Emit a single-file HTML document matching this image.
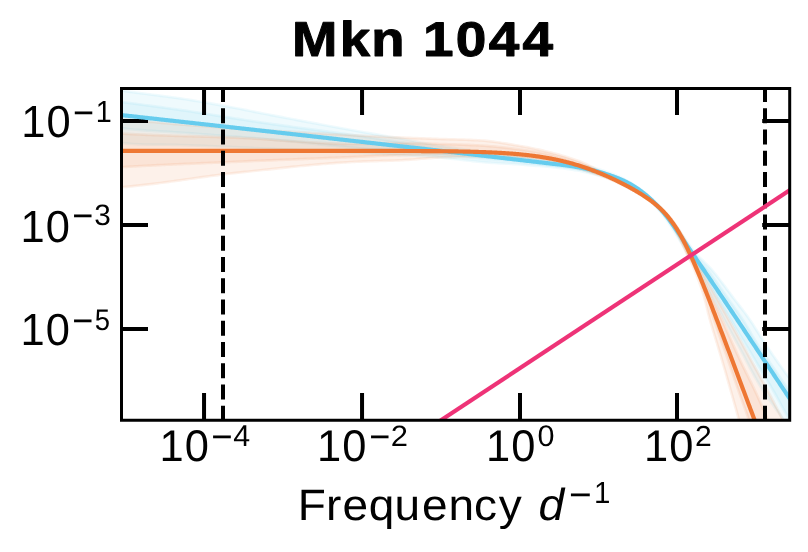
<!DOCTYPE html>
<html lang="en"><head><meta charset="utf-8"><title>Mkn 1044</title>
<style>html,body{margin:0;padding:0;background:#fff;}body{width:808px;height:552px;overflow:hidden;font-family:"Liberation Sans",sans-serif;}svg{display:block;will-change:transform;}</style></head><body>
<svg width="808" height="552" viewBox="0 0 808 552" font-family="'Liberation Sans', sans-serif">
<rect width="808" height="552" fill="#fff"/>
<defs><clipPath id="ax"><rect x="121.5" y="88.5" width="668.2" height="331.75"/></clipPath></defs>
<g clip-path="url(#ax)">
<path d="M100 87.38 L102.76 87.69 L105.52 88 L108.28 88.31 L111.05 88.69 L113.81 89.19 L116.57 89.68 L119.33 90.16 L122.09 90.61 L124.86 91.03 L127.62 91.43 L130.38 91.82 L133.14 92.2 L135.9 92.57 L138.66 92.94 L141.43 93.31 L144.19 93.67 L146.95 94.02 L149.71 94.38 L152.47 94.73 L155.24 95.09 L158 95.44 L160.76 95.8 L163.52 96.15 L166.28 96.52 L169.05 96.88 L171.81 97.25 L174.57 97.63 L177.33 98.02 L180.09 98.41 L182.86 98.82 L185.62 99.24 L188.38 99.66 L191.14 100.1 L193.9 100.55 L196.66 101.01 L199.43 101.47 L202.19 101.95 L204.95 102.43 L207.71 102.91 L210.47 103.41 L213.24 103.9 L216 104.41 L218.76 104.91 L221.52 105.42 L224.28 105.94 L227.05 106.45 L229.81 106.97 L232.57 107.48 L235.33 108 L238.09 108.52 L240.85 109.04 L243.62 109.59 L246.38 110.15 L249.14 110.71 L251.9 111.27 L254.66 111.84 L257.43 112.39 L260.19 112.94 L262.95 113.47 L265.71 114.01 L268.47 114.54 L271.23 115.07 L274 115.6 L276.76 116.13 L279.52 116.66 L282.28 117.19 L285.04 117.72 L287.81 118.24 L290.57 118.77 L293.33 119.29 L296.09 119.81 L298.85 120.33 L301.61 120.85 L304.38 121.37 L307.14 121.89 L309.9 122.4 L312.66 122.92 L315.42 123.43 L318.18 123.95 L320.95 124.46 L323.71 124.97 L326.47 125.48 L329.23 125.99 L331.99 126.49 L334.75 127 L337.51 127.5 L340.28 128 L343.04 128.51 L345.8 129.01 L348.56 129.5 L351.32 130 L354.08 130.5 L356.85 130.99 L359.61 131.49 L362.37 131.97 L365.13 132.46 L367.89 132.94 L370.65 133.41 L373.41 133.89 L376.17 134.36 L378.94 134.83 L381.7 135.3 L384.46 135.78 L387.22 136.25 L389.98 136.73 L392.74 137.21 L395.5 137.7 L398.27 138.19 L401.03 138.69 L403.79 139.2 L406.55 139.73 L409.31 140.27 L412.07 140.82 L414.83 141.37 L417.59 141.93 L420.35 142.48 L423.12 143.02 L425.88 143.56 L428.64 144.08 L431.4 144.58 L434.16 145.06 L436.92 145.52 L439.68 145.95 L442.44 146.36 L445.2 146.77 L447.96 147.17 L450.73 147.56 L453.49 147.95 L456.25 148.34 L459.01 148.72 L461.77 149.1 L464.53 149.47 L467.29 149.84 L470.05 150.21 L472.81 150.57 L475.57 150.93 L478.33 151.29 L481.09 151.64 L483.85 151.99 L486.62 152.34 L489.38 152.68 L492.14 153.02 L494.9 153.37 L497.66 153.71 L500.42 154.05 L503.18 154.39 L505.94 154.73 L508.7 155.07 L511.46 155.41 L514.22 155.76 L516.98 156.11 L519.74 156.47 L522.5 156.83 L525.26 157.21 L528.02 157.59 L530.78 157.99 L533.54 158.38 L536.3 158.79 L539.06 159.19 L541.82 159.59 L544.58 159.98 L547.34 160.37 L550.1 160.74 L552.86 161.11 L555.62 161.46 L558.38 161.8 L561.14 162.14 L563.89 162.48 L566.65 162.84 L569.39 163.22 L572.14 163.62 L574.88 164.04 L577.61 164.5 L580.34 164.98 L583.07 165.5 L585.78 166.05 L588.5 166.64 L591.2 167.26 L593.9 167.91 L596.59 168.59 L599.27 169.3 L601.95 170.17 L604.63 171.08 L607.3 172.02 L609.95 173 L612.6 174.02 L615.23 175.08 L617.84 176.19 L620.43 177.35 L622.99 178.57 L625.53 179.85 L628.03 181.19 L630.49 182.6 L632.92 184.09 L635.31 185.63 L637.66 187.24 L639.98 188.91 L642.26 190.63 L644.51 192.41 L646.72 194.23 L648.89 196.11 L651.03 198.03 L653.13 199.99 L655.2 201.99 L657.23 204.02 L659.23 206.1 L661.18 208.21 L663.11 210.35 L664.99 212.52 L666.84 214.71 L668.66 216.94 L670.44 219.18 L672.19 221.45 L673.91 223.73 L675.61 226.03 L677.29 228.33 L678.97 230.65 L680.64 232.97 L682.31 235.28 L683.98 237.6 L685.66 239.91 L687.34 242.22 L689.03 244.52 L690.73 246.83 L692.42 249.13 L694.13 251.42 L695.83 253.72 L697.9 256.01 L700.32 258.3 L702.77 260.6 L705.2 262.89 L707.54 265.18 L709.77 267.48 L711.81 269.77 L713.71 272.07 L715.57 274.37 L717.39 276.66 L719.19 278.96 L720.96 281.26 L722.71 283.56 L724.44 285.87 L726.16 288.17 L727.88 290.47 L729.59 292.78 L731.31 295.08 L733.03 297.39 L734.77 299.69 L736.53 302 L738.31 304.31 L740.1 306.62 L741.89 308.92 L743.67 311.23 L745.41 313.54 L747.11 315.86 L748.75 318.17 L750.32 320.48 L751.84 322.79 L753.33 325.1 L754.81 327.42 L756.27 329.73 L757.72 332.04 L759.17 334.36 L760.63 336.67 L762.1 338.98 L763.58 341.3 L765.08 343.61 L766.62 345.93 L768.17 348.24 L769.73 350.56 L771.31 352.87 L772.9 355.19 L774.51 357.5 L776.13 359.82 L777.76 362.14 L779.41 364.45 L781.07 366.77 L782.74 369.08 L784.42 371.4 L786.12 373.71 L787.83 376.03 L789.56 378.34 L791.3 380.65 L793.05 382.97 L794.81 385.28 L796.59 387.6 L798.37 389.91 L800.15 392.22 L801.69 394.53 L803.23 396.84 L804.77 399.16 L806.32 401.47 L807.86 403.78 L809.4 406.09 L810.95 408.4 L812.5 410.71 L814.04 413.01 L815.59 415.32 L817.14 417.63 L818.69 419.93 L783.85 419.93 L782.1 417.63 L780.37 415.32 L778.67 413.01 L776.98 410.71 L775.31 408.4 L773.67 406.09 L772.04 403.78 L770.43 401.47 L768.84 399.16 L767.26 396.84 L765.7 394.53 L764.15 392.22 L762.63 389.91 L761.15 387.6 L759.72 385.28 L758.33 382.97 L756.97 380.65 L755.64 378.34 L754.35 376.03 L753.08 373.71 L751.83 371.4 L750.6 369.08 L749.38 366.77 L748.18 364.45 L746.98 362.14 L745.78 359.82 L744.59 357.5 L743.39 355.19 L742.19 352.87 L740.98 350.56 L739.75 348.24 L738.5 345.93 L737.24 343.61 L735.98 341.3 L734.72 338.98 L733.47 336.67 L732.21 334.36 L730.96 332.04 L729.71 329.73 L728.47 327.42 L727.23 325.1 L725.99 322.79 L724.75 320.48 L723.53 318.17 L722.31 315.86 L721.09 313.54 L719.88 311.23 L718.68 308.92 L717.47 306.62 L716.26 304.31 L715.05 302 L713.84 299.69 L712.61 297.39 L711.38 295.08 L710.15 292.78 L708.91 290.47 L707.67 288.17 L706.43 285.87 L705.19 283.56 L703.95 281.26 L702.72 278.96 L701.49 276.66 L700.28 274.37 L699.07 272.07 L697.88 269.77 L696.84 267.48 L695.73 265.18 L694.24 262.89 L692.65 260.6 L690.99 258.3 L689.22 256.01 L687.73 253.72 L686.38 251.43 L685.01 249.15 L683.65 246.87 L682.28 244.6 L680.91 242.32 L679.54 240.05 L678.16 237.79 L676.78 235.52 L675.4 233.26 L674.01 231 L672.6 228.76 L671.18 226.53 L669.74 224.31 L668.27 222.11 L666.76 219.94 L665.22 217.79 L663.63 215.67 L661.99 213.58 L660.32 211.52 L658.6 209.51 L656.83 207.52 L655.03 205.58 L653.18 203.68 L651.28 201.83 L649.34 200.01 L647.36 198.25 L645.34 196.54 L643.27 194.88 L641.16 193.28 L639 191.74 L636.8 190.25 L634.56 188.84 L632.27 187.49 L629.94 186.21 L627.56 185 L625.14 183.87 L622.68 182.81 L620.19 181.82 L617.65 180.89 L615.09 180.02 L612.5 179.21 L609.89 178.44 L607.26 177.72 L604.61 177.04 L601.95 176.4 L599.27 175.77 L596.59 174.97 L593.9 174.21 L591.2 173.5 L588.5 172.82 L585.78 172.19 L583.07 171.6 L580.34 171.05 L577.61 170.54 L574.88 170.07 L572.14 169.63 L569.39 169.22 L566.65 168.84 L563.89 168.48 L561.14 168.14 L558.38 167.81 L555.62 167.51 L552.86 167.22 L550.1 166.96 L547.34 166.71 L544.58 166.47 L541.82 166.23 L539.06 166 L536.3 165.78 L533.54 165.56 L530.78 165.35 L528.02 165.13 L525.26 164.92 L522.5 164.7 L519.74 164.48 L516.98 164.27 L514.22 164.08 L511.46 163.9 L508.7 163.74 L505.94 163.58 L503.18 163.43 L500.42 163.28 L497.66 163.13 L494.9 162.97 L492.14 162.79 L489.38 162.6 L486.62 162.4 L483.85 162.17 L481.09 161.91 L478.33 161.63 L475.57 161.34 L472.81 161.04 L470.05 160.75 L467.29 160.45 L464.53 160.14 L461.77 159.84 L459.01 159.53 L456.25 159.23 L453.49 158.93 L450.73 158.63 L447.96 158.33 L445.2 158.04 L442.44 157.75 L439.68 157.47 L436.92 157.2 L434.16 156.97 L431.4 156.75 L428.64 156.55 L425.88 156.37 L423.12 156.21 L420.35 156.05 L417.59 155.91 L414.83 155.77 L412.07 155.63 L409.31 155.49 L406.55 155.35 L403.79 155.21 L401.03 155.06 L398.27 154.9 L395.5 154.74 L392.74 154.59 L389.98 154.44 L387.22 154.29 L384.46 154.14 L381.7 154 L378.94 153.85 L376.17 153.71 L373.41 153.57 L370.65 153.43 L367.89 153.29 L365.13 153.16 L362.37 153.02 L359.61 152.88 L356.85 152.74 L354.08 152.61 L351.32 152.47 L348.56 152.34 L345.8 152.2 L343.04 152.07 L340.28 151.94 L337.51 151.81 L334.75 151.68 L331.99 151.55 L329.23 151.42 L326.47 151.29 L323.71 151.17 L320.95 151.04 L318.18 150.91 L315.42 150.79 L312.66 150.66 L309.9 150.54 L307.14 150.41 L304.38 150.29 L301.61 150.17 L298.85 150.04 L296.09 149.92 L293.33 149.8 L290.57 149.67 L287.81 149.55 L285.04 149.43 L282.28 149.3 L279.52 149.18 L276.76 149.06 L274 148.93 L271.23 148.81 L268.47 148.68 L265.71 148.56 L262.95 148.43 L260.19 148.31 L257.43 148.18 L254.66 148.06 L251.9 147.93 L249.14 147.8 L246.38 147.67 L243.62 147.55 L240.85 147.42 L238.09 147.3 L235.33 147.19 L232.57 147.07 L229.81 146.95 L227.05 146.83 L224.28 146.72 L221.52 146.61 L218.76 146.49 L216 146.38 L213.24 146.27 L210.47 146.16 L207.71 146.05 L204.95 145.94 L202.19 145.83 L199.43 145.72 L196.66 145.62 L193.9 145.51 L191.14 145.41 L188.38 145.31 L185.62 145.2 L182.86 145.1 L180.09 145 L177.33 144.91 L174.57 144.85 L171.81 144.79 L169.05 144.76 L166.28 144.73 L163.52 144.71 L160.76 144.69 L158 144.68 L155.24 144.66 L152.47 144.63 L149.71 144.6 L146.95 144.55 L144.19 144.49 L141.43 144.4 L138.66 144.29 L135.9 144.16 L133.14 144 L130.38 143.8 L127.62 143.57 L124.86 143.29 L122.09 142.99 L119.33 142.67 L116.57 142.35 L113.81 142.01 L111.05 141.64 L108.28 141.31 L105.52 141 L102.76 140.69 L100 140.38 Z" fill="#66CCEE" fill-opacity="0.1" stroke="#66CCEE" stroke-opacity="0.1" stroke-width="2.7" stroke-linejoin="round"/>
<path d="M100 99.38 L102.76 99.69 L105.52 100 L108.28 100.31 L111.05 100.63 L113.81 100.98 L116.57 101.34 L119.33 101.69 L122.09 102.05 L124.86 102.41 L127.62 102.77 L130.38 103.14 L133.14 103.5 L135.9 103.87 L138.66 104.23 L141.43 104.6 L144.19 104.97 L146.95 105.34 L149.71 105.71 L152.47 106.08 L155.24 106.46 L158 106.83 L160.76 107.21 L163.52 107.59 L166.28 107.97 L169.05 108.36 L171.81 108.74 L174.57 109.13 L177.33 109.52 L180.09 109.91 L182.86 110.31 L185.62 110.71 L188.38 111.12 L191.14 111.54 L193.9 111.96 L196.66 112.38 L199.43 112.81 L202.19 113.24 L204.95 113.67 L207.71 114.11 L210.47 114.54 L213.24 114.98 L216 115.42 L218.76 115.86 L221.52 116.3 L224.28 116.74 L227.05 117.18 L229.81 117.62 L232.57 118.05 L235.33 118.49 L238.09 118.91 L240.85 119.34 L243.62 119.78 L246.38 120.21 L249.14 120.65 L251.9 121.08 L254.66 121.5 L257.43 121.92 L260.19 122.33 L262.95 122.73 L265.71 123.12 L268.47 123.52 L271.23 123.91 L274 124.3 L276.76 124.69 L279.52 125.07 L282.28 125.45 L285.04 125.83 L287.81 126.21 L290.57 126.59 L293.33 126.97 L296.09 127.34 L298.85 127.72 L301.61 128.09 L304.38 128.46 L307.14 128.83 L309.9 129.2 L312.66 129.58 L315.42 129.95 L318.18 130.32 L320.95 130.69 L323.71 131.06 L326.47 131.44 L329.23 131.81 L331.99 132.19 L334.75 132.56 L337.51 132.94 L340.28 133.32 L343.04 133.7 L345.8 134.08 L348.56 134.47 L351.32 134.85 L354.08 135.24 L356.85 135.64 L359.61 136.03 L362.37 136.42 L365.13 136.82 L367.89 137.21 L370.65 137.61 L373.41 138.01 L376.17 138.41 L378.94 138.81 L381.7 139.22 L384.46 139.63 L387.22 140.04 L389.98 140.45 L392.74 140.87 L395.5 141.3 L398.27 141.73 L401.03 142.16 L403.79 142.63 L406.55 143.12 L409.31 143.64 L412.07 144.17 L414.83 144.7 L417.59 145.25 L420.35 145.79 L423.12 146.32 L425.88 146.83 L428.64 147.32 L431.4 147.79 L434.16 148.22 L436.92 148.62 L439.68 148.96 L442.44 149.28 L445.2 149.59 L447.96 149.91 L450.73 150.22 L453.49 150.53 L456.25 150.84 L459.01 151.15 L461.77 151.46 L464.53 151.77 L467.29 152.07 L470.05 152.38 L472.81 152.69 L475.57 153 L478.33 153.31 L481.09 153.62 L483.85 153.93 L486.62 154.24 L489.38 154.55 L492.14 154.85 L494.9 155.16 L497.66 155.47 L500.42 155.77 L503.18 156.08 L505.94 156.39 L508.7 156.7 L511.46 157.02 L514.22 157.33 L516.98 157.65 L519.74 157.97 L522.5 158.3 L525.26 158.64 L528.02 159 L530.78 159.37 L533.54 159.75 L536.3 160.13 L539.06 160.51 L541.82 160.9 L544.58 161.28 L547.34 161.66 L550.1 162.03 L552.86 162.39 L555.62 162.75 L558.38 163.1 L561.14 163.44 L563.89 163.8 L566.65 164.16 L569.39 164.55 L572.14 164.96 L574.88 165.4 L577.61 165.86 L580.34 166.36 L583.07 166.89 L585.78 167.46 L588.5 168.06 L591.2 168.7 L593.9 169.36 L596.59 170.06 L599.27 170.79 L601.95 171.61 L604.63 172.46 L607.29 173.34 L609.94 174.26 L612.58 175.22 L615.2 176.22 L617.8 177.27 L620.38 178.38 L622.93 179.55 L625.44 180.77 L627.92 182.07 L630.37 183.44 L632.78 184.87 L635.15 186.37 L637.48 187.94 L639.77 189.56 L642.02 191.24 L644.24 192.98 L646.42 194.77 L648.56 196.6 L650.66 198.48 L652.73 200.41 L654.76 202.38 L656.75 204.38 L658.7 206.43 L660.62 208.51 L662.5 210.62 L664.34 212.76 L666.14 214.93 L667.91 217.13 L669.64 219.36 L671.33 221.6 L673 223.86 L674.64 226.14 L676.27 228.43 L677.88 230.73 L679.49 233.03 L681.1 235.34 L682.71 237.64 L684.32 239.94 L685.94 242.24 L687.56 244.54 L689.18 246.84 L690.81 249.13 L692.43 251.43 L694.06 253.72 L695.73 256.01 L697.57 258.3 L699.63 260.6 L701.78 262.89 L703.93 265.18 L705.99 267.48 L707.83 269.77 L709.5 272.07 L711.16 274.37 L712.79 276.66 L714.41 278.96 L716.03 281.26 L717.63 283.56 L719.22 285.87 L720.81 288.17 L722.4 290.47 L723.99 292.78 L725.58 295.08 L727.18 297.39 L728.79 299.69 L730.4 302 L732.04 304.31 L733.68 306.62 L735.32 308.92 L736.95 311.23 L738.58 313.54 L740.18 315.86 L741.77 318.17 L743.32 320.48 L744.8 322.79 L746.23 325.1 L747.6 327.42 L748.93 329.73 L750.25 332.04 L751.56 334.36 L752.89 336.67 L754.24 338.98 L755.64 341.3 L757.09 343.61 L758.62 345.93 L760.16 348.24 L761.72 350.56 L763.29 352.87 L764.86 355.19 L766.44 357.5 L768.02 359.82 L769.61 362.14 L771.2 364.45 L772.79 366.77 L774.39 369.08 L775.98 371.4 L777.57 373.71 L779.17 376.03 L780.75 378.34 L782.34 380.65 L783.91 382.97 L785.48 385.28 L787.05 387.6 L788.6 389.91 L790.15 392.22 L791.69 394.53 L793.23 396.84 L794.77 399.16 L796.31 401.47 L797.85 403.78 L799.39 406.09 L800.93 408.4 L802.48 410.71 L804.03 413.01 L805.58 415.32 L807.13 417.63 L808.67 419.93 L790 419.93 L788.49 417.63 L787.05 415.32 L785.67 413.01 L784.33 410.71 L783.03 408.4 L781.76 406.09 L780.51 403.78 L779.26 401.47 L778.01 399.16 L776.75 396.84 L775.46 394.53 L774.13 392.22 L772.77 389.91 L771.41 387.6 L770.05 385.28 L768.68 382.97 L767.31 380.65 L765.94 378.34 L764.56 376.03 L763.18 373.71 L761.8 371.4 L760.42 369.08 L759.03 366.77 L757.65 364.45 L756.26 362.14 L754.87 359.82 L753.49 357.5 L752.1 355.19 L750.71 352.87 L749.32 350.56 L747.94 348.24 L746.55 345.93 L745.17 343.61 L743.79 341.3 L742.4 338.98 L741.01 336.67 L739.62 334.36 L738.23 332.04 L736.84 329.73 L735.45 327.42 L734.06 325.1 L732.67 322.79 L731.29 320.48 L729.9 318.17 L728.51 315.86 L727.13 313.54 L725.74 311.23 L724.35 308.92 L722.97 306.62 L721.58 304.31 L720.2 302 L718.82 299.69 L717.45 297.39 L716.09 295.08 L714.75 292.78 L713.41 290.47 L712.07 288.17 L710.73 285.87 L709.38 283.56 L708.02 281.26 L706.64 278.96 L705.24 276.66 L703.81 274.37 L702.35 272.07 L700.85 269.77 L699.33 267.48 L697.8 265.18 L696.24 262.89 L694.66 260.6 L693.05 258.3 L691.41 256.01 L689.91 253.72 L688.46 251.43 L687 249.15 L685.55 246.86 L684.09 244.58 L682.64 242.3 L681.18 240.02 L679.72 237.74 L678.26 235.47 L676.8 233.19 L675.34 230.92 L673.86 228.66 L672.37 226.41 L670.86 224.18 L669.32 221.96 L667.75 219.76 L666.14 217.59 L664.49 215.45 L662.8 213.33 L661.07 211.25 L659.29 209.21 L657.48 207.19 L655.62 205.22 L653.72 203.29 L651.78 201.4 L649.8 199.56 L647.78 197.76 L645.71 196.01 L643.6 194.31 L641.46 192.67 L639.27 191.08 L637.03 189.56 L634.76 188.1 L632.44 186.7 L630.09 185.38 L627.69 184.12 L625.25 182.94 L622.77 181.83 L620.25 180.79 L617.7 179.81 L615.13 178.88 L612.53 178.01 L609.91 177.19 L607.27 176.41 L604.62 175.66 L601.95 174.96 L599.27 174.27 L596.59 173.48 L593.9 172.71 L591.2 171.99 L588.5 171.3 L585.78 170.65 L583.07 170.04 L580.34 169.46 L577.61 168.93 L574.88 168.44 L572.14 167.98 L569.39 167.56 L566.65 167.16 L563.89 166.79 L561.14 166.44 L558.38 166.11 L555.62 165.79 L552.86 165.48 L550.1 165.18 L547.34 164.88 L544.58 164.58 L541.82 164.29 L539.06 163.99 L536.3 163.7 L533.54 163.41 L530.78 163.12 L528.02 162.83 L525.26 162.55 L522.5 162.26 L519.74 161.97 L516.98 161.69 L514.22 161.43 L511.46 161.17 L508.7 160.92 L505.94 160.67 L503.18 160.44 L500.42 160.2 L497.66 159.97 L494.9 159.75 L492.14 159.52 L489.38 159.29 L486.62 159.06 L483.85 158.83 L481.09 158.6 L478.33 158.35 L475.57 158.11 L472.81 157.87 L470.05 157.63 L467.29 157.39 L464.53 157.15 L461.77 156.9 L459.01 156.66 L456.25 156.42 L453.49 156.18 L450.73 155.94 L447.96 155.7 L445.2 155.46 L442.44 155.21 L439.68 154.97 L436.92 154.73 L434.16 154.49 L431.4 154.24 L428.64 154 L425.88 153.75 L423.12 153.51 L420.35 153.26 L417.59 153.02 L414.83 152.77 L412.07 152.53 L409.31 152.29 L406.55 152.06 L403.79 151.82 L401.03 151.59 L398.27 151.36 L395.5 151.13 L392.74 150.92 L389.98 150.71 L387.22 150.5 L384.46 150.3 L381.7 150.1 L378.94 149.89 L376.17 149.69 L373.41 149.48 L370.65 149.27 L367.89 149.05 L365.13 148.82 L362.37 148.59 L359.61 148.35 L356.85 148.09 L354.08 147.83 L351.32 147.57 L348.56 147.31 L345.8 147.04 L343.04 146.77 L340.28 146.5 L337.51 146.22 L334.75 145.95 L331.99 145.67 L329.23 145.39 L326.47 145.11 L323.71 144.83 L320.95 144.54 L318.18 144.26 L315.42 143.98 L312.66 143.69 L309.9 143.41 L307.14 143.12 L304.38 142.84 L301.61 142.56 L298.85 142.27 L296.09 141.99 L293.33 141.71 L290.57 141.43 L287.81 141.16 L285.04 140.88 L282.28 140.61 L279.52 140.34 L276.76 140.07 L274 139.8 L271.23 139.54 L268.47 139.28 L265.71 139.02 L262.95 138.77 L260.19 138.52 L257.43 138.28 L254.66 138.06 L251.9 137.86 L249.14 137.66 L246.38 137.48 L243.62 137.29 L240.85 137.1 L238.09 136.91 L235.33 136.7 L232.57 136.5 L229.81 136.3 L227.05 136.09 L224.28 135.89 L221.52 135.68 L218.76 135.47 L216 135.27 L213.24 135.06 L210.47 134.86 L207.71 134.65 L204.95 134.44 L202.19 134.24 L199.43 134.03 L196.66 133.83 L193.9 133.62 L191.14 133.42 L188.38 133.21 L185.62 133.01 L182.86 132.81 L180.09 132.61 L177.33 132.41 L174.57 132.23 L171.81 132.05 L169.05 131.88 L166.28 131.71 L163.52 131.55 L160.76 131.39 L158 131.23 L155.24 131.07 L152.47 130.9 L149.71 130.73 L146.95 130.55 L144.19 130.37 L141.43 130.17 L138.66 129.96 L135.9 129.74 L133.14 129.51 L130.38 129.26 L127.62 128.98 L124.86 128.69 L122.09 128.37 L119.33 128 L116.57 127.58 L113.81 127.13 L111.05 126.67 L108.28 126.31 L105.52 126 L102.76 125.69 L100 125.38 Z" fill="#66CCEE" fill-opacity="0.1" stroke="#66CCEE" stroke-opacity="0.1" stroke-width="2.7" stroke-linejoin="round"/>
<path d="M101.75 118.3 L103.98 118.3 L106.22 118.3 L108.46 118.3 L110.69 118.36 L112.93 118.55 L115.17 118.74 L117.4 118.93 L119.64 119.13 L121.87 119.32 L124.11 119.51 L126.35 119.7 L128.58 119.89 L130.82 120.09 L133.06 120.28 L135.29 120.47 L137.53 120.67 L139.76 120.86 L142 121.05 L144.24 121.25 L146.47 121.44 L148.71 121.64 L150.95 121.83 L153.18 122.03 L155.42 122.23 L157.66 122.44 L159.89 122.64 L162.13 122.84 L164.36 123.05 L166.6 123.25 L168.84 123.45 L171.07 123.65 L173.31 123.84 L175.55 124.03 L177.78 124.22 L180.02 124.4 L182.25 124.58 L184.49 124.75 L186.73 124.93 L188.96 125.1 L191.2 125.26 L193.44 125.43 L195.67 125.6 L197.91 125.76 L200.14 125.92 L202.38 126.08 L204.62 126.24 L206.85 126.4 L209.09 126.56 L211.33 126.71 L213.56 126.87 L215.8 127.02 L218.03 127.17 L220.27 127.32 L222.51 127.47 L224.74 127.62 L226.98 127.77 L229.22 127.92 L231.45 128.07 L233.69 128.22 L235.93 128.36 L238.16 128.51 L240.4 128.66 L242.63 128.8 L244.87 128.95 L247.11 129.09 L249.34 129.23 L251.58 129.38 L253.82 129.52 L256.05 129.66 L258.29 129.8 L260.52 129.94 L262.76 130.08 L265 130.21 L267.23 130.35 L269.47 130.49 L271.71 130.62 L273.94 130.76 L276.18 130.9 L278.41 131.03 L280.65 131.16 L282.89 131.3 L285.12 131.43 L287.36 131.56 L289.6 131.69 L291.83 131.82 L294.07 131.96 L296.3 132.09 L298.54 132.22 L300.78 132.35 L303.01 132.47 L305.25 132.6 L307.49 132.73 L309.72 132.86 L311.96 132.99 L314.2 133.12 L316.43 133.25 L318.67 133.37 L320.9 133.5 L323.14 133.63 L325.38 133.75 L327.61 133.88 L329.85 134 L332.09 134.12 L334.32 134.25 L336.56 134.37 L338.79 134.49 L341.03 134.61 L343.27 134.73 L345.5 134.85 L347.74 134.97 L349.98 135.09 L352.21 135.2 L354.45 135.32 L356.68 135.43 L358.92 135.55 L361.16 135.66 L363.39 135.77 L365.63 135.89 L367.87 136 L370.1 136.11 L372.34 136.22 L374.57 136.34 L376.81 136.45 L379.05 136.56 L381.28 136.66 L383.52 136.77 L385.76 136.88 L387.99 136.98 L390.23 137.08 L392.47 137.18 L394.7 137.28 L396.94 137.37 L399.17 137.47 L401.41 137.56 L403.65 137.65 L405.88 137.74 L408.12 137.83 L410.36 137.92 L412.59 138.01 L414.83 138.1 L417.06 138.18 L419.3 138.27 L421.54 138.36 L423.77 138.44 L426.01 138.52 L428.25 138.6 L430.48 138.68 L432.72 138.76 L434.95 138.84 L437.19 138.91 L439.43 138.98 L441.66 139.05 L443.9 139.12 L446.14 139.18 L448.37 139.24 L450.61 139.3 L452.84 139.36 L455.08 139.42 L457.32 139.49 L459.55 139.55 L461.79 139.62 L464.03 139.69 L466.26 139.77 L468.5 139.85 L470.73 139.94 L472.97 140.04 L475.21 140.14 L477.44 140.26 L479.68 140.38 L481.92 140.52 L484.15 140.7 L486.39 140.9 L488.63 141.13 L490.86 141.39 L493.1 141.67 L495.33 141.97 L497.57 142.28 L499.81 142.62 L502.04 142.96 L504.28 143.32 L506.52 143.69 L508.75 144.07 L510.99 144.45 L513.22 144.84 L515.46 145.22 L517.7 145.61 L519.93 145.99 L522.17 146.37 L524.41 146.77 L526.64 147.18 L528.88 147.61 L531.11 148.04 L533.35 148.49 L535.59 148.96 L537.82 149.43 L540.06 149.93 L542.3 150.43 L544.53 150.96 L546.77 151.49 L549 152.05 L551.24 152.61 L553.48 153.2 L555.71 153.8 L557.95 154.42 L560.19 155.05 L562.42 155.7 L564.66 156.35 L566.9 157.02 L569.13 157.71 L571.37 158.42 L573.6 159.16 L575.84 159.94 L578.08 160.76 L580.31 161.62 L582.55 162.54 L584.79 163.52 L587.02 164.56 L589.26 165.64 L591.49 166.78 L593.73 167.96 L595.97 169.19 L598.2 170.45 L600.44 171.76 L602.68 172.78 L604.92 173.82 L607.17 174.87 L609.42 175.95 L611.67 177.05 L613.92 178.17 L616.18 179.3 L618.44 180.46 L620.7 181.64 L622.97 182.84 L625.23 184.06 L627.5 185.3 L629.78 186.57 L632.05 187.86 L634.33 189.18 L636.61 190.52 L638.89 191.9 L641.18 193.32 L643.47 194.77 L645.76 196.28 L648.05 197.83 L650.35 199.45 L652.65 201.14 L654.95 202.91 L657.26 204.78 L659.57 206.76 L661.88 208.86 L664.19 211.1 L666.51 213.5 L668.82 216.08 L671.14 218.84 L673.47 221.82 L675.8 225.01 L678.12 228.43 L680.46 232.08 L682.79 235.97 L685.13 240.08 L687.47 244.4 L689.81 248.94 L692.16 253.66 L694.85 258.56 L697.61 263.61 L700.44 268.8 L703.33 274.12 L706.28 279.54 L709.29 285.05 L712.36 290.64 L715.52 296.3 L718.76 302.01 L722.06 307.77 L725.38 313.57 L728.67 319.41 L731.93 325.27 L735.18 331.15 L738.44 337.05 L741.69 342.97 L744.94 348.9 L748.18 354.84 L751.43 360.79 L754.69 366.75 L757.96 372.72 L761.22 378.69 L764.46 384.66 L767.68 390.64 L770.86 396.63 L773.98 402.61 L777.07 408.6 L780.16 414.59 L783.31 420.58 L786.51 426.57 L789.76 432.57 L792.08 438.56 L794.31 444.56 L796.55 450.56 L798.78 456.56 L801.02 462.56 L753.39 462.56 L751.16 456.56 L748.92 450.56 L746.68 444.56 L744.45 438.56 L742.21 432.57 L740.68 426.57 L739.15 420.58 L737.54 414.59 L735.86 408.6 L734.16 402.61 L732.46 396.63 L730.77 390.64 L729.08 384.66 L727.38 378.69 L725.68 372.72 L723.96 366.75 L722.23 360.79 L720.47 354.84 L718.68 348.9 L716.87 342.97 L715.07 337.05 L713.28 331.15 L711.53 325.27 L709.83 319.41 L708.3 313.57 L706.89 307.77 L705.49 302.01 L703.97 296.3 L702.22 290.64 L700.27 285.05 L698.27 279.54 L696.19 274.12 L693.99 268.8 L691.65 263.61 L689.13 258.56 L686.73 253.66 L684.64 248.95 L682.56 244.43 L680.46 240.11 L678.37 236.02 L676.27 232.17 L674.17 228.54 L672.06 225.16 L669.95 222 L667.84 219.07 L665.72 216.35 L663.6 213.83 L661.47 211.48 L659.34 209.3 L657.21 207.27 L655.07 205.36 L652.93 203.57 L650.79 201.88 L648.64 200.27 L646.49 198.74 L644.34 197.28 L642.18 195.87 L640.01 194.52 L637.85 193.21 L635.68 191.94 L633.5 190.71 L631.32 189.51 L629.14 188.35 L626.96 187.21 L624.77 186.1 L622.57 185.02 L620.38 183.96 L618.18 182.93 L615.97 181.92 L613.76 180.94 L611.55 179.99 L609.34 179.05 L607.12 178.15 L604.9 177.26 L602.67 176.41 L600.44 175.57 L598.2 174.89 L595.97 174.15 L593.73 173.41 L591.49 172.68 L589.26 171.96 L587.02 171.24 L584.79 170.52 L582.55 169.81 L580.31 169.1 L578.08 168.38 L575.84 167.65 L573.6 166.92 L571.37 166.2 L569.13 165.5 L566.9 164.82 L564.66 164.18 L562.42 163.58 L560.19 163.04 L557.95 162.55 L555.71 162.09 L553.48 161.66 L551.24 161.27 L549 160.9 L546.77 160.56 L544.53 160.25 L542.3 159.96 L540.06 159.7 L537.82 159.45 L535.59 159.22 L533.35 159.01 L531.11 158.81 L528.88 158.63 L526.64 158.46 L524.41 158.3 L522.17 158.14 L519.93 158 L517.7 157.86 L515.46 157.73 L513.22 157.61 L510.99 157.49 L508.75 157.39 L506.52 157.3 L504.28 157.22 L502.04 157.14 L499.81 157.07 L497.57 157.02 L495.33 156.96 L493.1 156.92 L490.86 156.88 L488.63 156.85 L486.39 156.83 L484.15 156.81 L481.92 156.8 L479.68 156.8 L477.44 156.8 L475.21 156.81 L472.97 156.82 L470.73 156.83 L468.5 156.85 L466.26 156.87 L464.03 156.89 L461.79 156.92 L459.55 156.96 L457.32 157 L455.08 157.05 L452.84 157.1 L450.61 157.15 L448.37 157.21 L446.14 157.28 L443.9 157.36 L441.66 157.44 L439.43 157.52 L437.19 157.63 L434.95 157.75 L432.72 157.89 L430.48 158.04 L428.25 158.21 L426.01 158.38 L423.77 158.56 L421.54 158.74 L419.3 158.93 L417.06 159.12 L414.83 159.3 L412.59 159.48 L410.36 159.66 L408.12 159.82 L405.88 159.97 L403.65 160.11 L401.41 160.23 L399.17 160.34 L396.94 160.43 L394.7 160.52 L392.47 160.6 L390.23 160.67 L387.99 160.74 L385.76 160.81 L383.52 160.87 L381.28 160.93 L379.05 160.99 L376.81 161.05 L374.57 161.11 L372.34 161.18 L370.1 161.24 L367.87 161.32 L365.63 161.39 L363.39 161.47 L361.16 161.56 L358.92 161.66 L356.68 161.76 L354.45 161.87 L352.21 161.99 L349.98 162.11 L347.74 162.24 L345.5 162.38 L343.27 162.52 L341.03 162.66 L338.79 162.81 L336.56 162.97 L334.32 163.13 L332.09 163.3 L329.85 163.47 L327.61 163.64 L325.38 163.82 L323.14 164 L320.9 164.19 L318.67 164.38 L316.43 164.58 L314.2 164.77 L311.96 164.98 L309.72 165.18 L307.49 165.39 L305.25 165.6 L303.01 165.82 L300.78 166.03 L298.54 166.26 L296.3 166.48 L294.07 166.7 L291.83 166.93 L289.6 167.16 L287.36 167.39 L285.12 167.62 L282.89 167.86 L280.65 168.09 L278.41 168.33 L276.18 168.57 L273.94 168.81 L271.71 169.05 L269.47 169.29 L267.23 169.54 L265 169.78 L262.76 170.02 L260.52 170.27 L258.29 170.51 L256.05 170.75 L253.82 171 L251.58 171.24 L249.34 171.48 L247.11 171.72 L244.87 171.96 L242.63 172.21 L240.4 172.44 L238.16 172.68 L235.93 172.92 L233.69 173.17 L231.45 173.42 L229.22 173.68 L226.98 173.95 L224.74 174.22 L222.51 174.49 L220.27 174.78 L218.03 175.06 L215.8 175.35 L213.56 175.64 L211.33 175.94 L209.09 176.24 L206.85 176.54 L204.62 176.85 L202.38 177.15 L200.14 177.46 L197.91 177.78 L195.67 178.09 L193.44 178.4 L191.2 178.72 L188.96 179.03 L186.73 179.35 L184.49 179.66 L182.25 179.98 L180.02 180.29 L177.78 180.6 L175.55 180.92 L173.31 181.23 L171.07 181.53 L168.84 181.84 L166.6 182.14 L164.36 182.44 L162.13 182.74 L159.89 183.03 L157.66 183.32 L155.42 183.61 L153.18 183.89 L150.95 184.16 L148.71 184.43 L146.47 184.7 L144.24 184.96 L142 185.21 L139.76 185.46 L137.53 185.7 L135.29 185.94 L133.06 186.16 L130.82 186.38 L128.58 186.59 L126.35 186.8 L124.11 186.99 L121.87 187.17 L119.64 187.35 L117.4 187.51 L115.17 187.66 L112.93 187.81 L110.69 187.95 L108.46 188 L106.22 188 L103.98 188 L101.75 188 Z" fill="#EE7733" fill-opacity="0.1" stroke="#EE7733" stroke-opacity="0.1" stroke-width="2.7" stroke-linejoin="round"/>
<path d="M101.75 132.5 L103.98 132.5 L106.22 132.5 L108.46 132.5 L110.69 132.56 L112.93 132.78 L115.17 132.99 L117.4 133.2 L119.64 133.39 L121.87 133.56 L124.11 133.71 L126.35 133.83 L128.58 133.95 L130.82 134.07 L133.06 134.18 L135.29 134.29 L137.53 134.4 L139.76 134.5 L142 134.6 L144.24 134.69 L146.47 134.79 L148.71 134.88 L150.95 134.96 L153.18 135.05 L155.42 135.13 L157.66 135.21 L159.89 135.29 L162.13 135.37 L164.36 135.44 L166.6 135.52 L168.84 135.59 L171.07 135.66 L173.31 135.73 L175.55 135.79 L177.78 135.86 L180.02 135.93 L182.25 135.99 L184.49 136.06 L186.73 136.12 L188.96 136.19 L191.2 136.25 L193.44 136.31 L195.67 136.38 L197.91 136.44 L200.14 136.51 L202.38 136.57 L204.62 136.64 L206.85 136.7 L209.09 136.77 L211.33 136.84 L213.56 136.91 L215.8 136.98 L218.03 137.06 L220.27 137.13 L222.51 137.21 L224.74 137.29 L226.98 137.37 L229.22 137.45 L231.45 137.54 L233.69 137.62 L235.93 137.71 L238.16 137.81 L240.4 137.9 L242.63 138.01 L244.87 138.12 L247.11 138.23 L249.34 138.35 L251.58 138.47 L253.82 138.6 L256.05 138.73 L258.29 138.86 L260.52 139 L262.76 139.14 L265 139.28 L267.23 139.43 L269.47 139.57 L271.71 139.72 L273.94 139.88 L276.18 140.03 L278.41 140.18 L280.65 140.33 L282.89 140.49 L285.12 140.64 L287.36 140.8 L289.6 140.95 L291.83 141.1 L294.07 141.26 L296.3 141.41 L298.54 141.56 L300.78 141.71 L303.01 141.85 L305.25 141.99 L307.49 142.14 L309.72 142.27 L311.96 142.41 L314.2 142.54 L316.43 142.67 L318.67 142.79 L320.9 142.91 L323.14 143.02 L325.38 143.13 L327.61 143.24 L329.85 143.34 L332.09 143.43 L334.32 143.52 L336.56 143.6 L338.79 143.67 L341.03 143.74 L343.27 143.8 L345.5 143.85 L347.74 143.9 L349.98 143.93 L352.21 143.96 L354.45 143.98 L356.68 144 L358.92 144 L361.16 143.99 L363.39 143.96 L365.63 143.91 L367.87 143.86 L370.1 143.8 L372.34 143.73 L374.57 143.65 L376.81 143.57 L379.05 143.49 L381.28 143.4 L383.52 143.32 L385.76 143.25 L387.99 143.18 L390.23 143.12 L392.47 143.07 L394.7 143.03 L396.94 143.01 L399.17 143 L401.41 143.01 L403.65 143.03 L405.88 143.05 L408.12 143.09 L410.36 143.13 L412.59 143.18 L414.83 143.23 L417.06 143.29 L419.3 143.35 L421.54 143.42 L423.77 143.49 L426.01 143.56 L428.25 143.63 L430.48 143.7 L432.72 143.78 L434.95 143.85 L437.19 143.92 L439.43 143.98 L441.66 144.05 L443.9 144.11 L446.14 144.18 L448.37 144.24 L450.61 144.31 L452.84 144.38 L455.08 144.45 L457.32 144.52 L459.55 144.59 L461.79 144.67 L464.03 144.75 L466.26 144.84 L468.5 144.93 L470.73 145.03 L472.97 145.13 L475.21 145.24 L477.44 145.36 L479.68 145.48 L481.92 145.62 L484.15 145.76 L486.39 145.92 L488.63 146.09 L490.86 146.28 L493.1 146.47 L495.33 146.68 L497.57 146.89 L499.81 147.12 L502.04 147.35 L504.28 147.59 L506.52 147.84 L508.75 148.1 L510.99 148.37 L513.22 148.64 L515.46 148.92 L517.7 149.2 L519.93 149.49 L522.17 149.79 L524.41 150.09 L526.64 150.41 L528.88 150.74 L531.11 151.07 L533.35 151.42 L535.59 151.79 L537.82 152.17 L540.06 152.57 L542.3 152.98 L544.53 153.41 L546.77 153.87 L549 154.34 L551.24 154.83 L553.48 155.35 L555.71 155.89 L557.95 156.46 L560.19 157.05 L562.42 157.67 L564.66 158.31 L566.9 158.99 L569.13 159.69 L571.37 160.42 L573.6 161.18 L575.84 161.96 L578.08 162.78 L580.31 163.62 L582.55 164.49 L584.79 165.39 L587.02 166.32 L589.26 167.28 L591.49 168.27 L593.73 169.29 L595.97 170.34 L598.2 171.41 L600.44 172.52 L602.68 173.5 L604.92 174.5 L607.16 175.53 L609.41 176.57 L611.66 177.64 L613.91 178.72 L616.16 179.83 L618.41 180.96 L620.66 182.1 L622.92 183.27 L625.18 184.47 L627.44 185.68 L629.7 186.92 L631.97 188.19 L634.24 189.48 L636.5 190.81 L638.78 192.16 L641.05 193.56 L643.32 194.99 L645.6 196.48 L647.88 198.02 L650.16 199.62 L652.44 201.29 L654.73 203.04 L657.01 204.9 L659.3 206.86 L661.59 208.95 L663.88 211.18 L666.18 213.56 L668.47 216.13 L670.77 218.89 L673.07 221.85 L675.37 225.04 L677.68 228.45 L679.98 232.1 L682.29 235.98 L684.6 240.08 L686.92 244.41 L689.23 248.94 L691.55 253.66 L693.86 258.56 L696.13 263.61 L698.47 268.8 L700.85 274.12 L703.29 279.54 L705.77 285.05 L708.29 290.64 L710.89 296.3 L713.56 302.01 L716.29 307.77 L719.02 313.57 L721.73 319.41 L724.39 325.27 L727.03 331.15 L729.66 337.05 L732.29 342.97 L734.94 348.9 L737.63 354.84 L740.37 360.79 L743.21 366.75 L746.15 372.72 L749.12 378.69 L752.08 384.66 L754.97 390.64 L757.74 396.63 L760.43 402.61 L763.08 408.6 L765.68 414.59 L768.25 420.58 L770.76 426.57 L773.21 432.57 L775.45 438.56 L777.68 444.56 L779.92 450.56 L782.16 456.56 L784.39 462.56 L764.39 462.56 L762.16 456.56 L759.92 450.56 L757.68 444.56 L755.45 438.56 L753.21 432.57 L751.23 426.57 L749.2 420.58 L747.07 414.59 L744.91 408.6 L742.74 402.61 L740.58 396.63 L738.47 390.64 L736.4 384.66 L734.36 378.69 L732.34 372.72 L730.31 366.75 L728.27 360.79 L726.21 354.84 L724.12 348.9 L722.02 342.97 L719.93 337.05 L717.86 331.15 L715.81 325.27 L713.8 319.41 L711.96 313.57 L710.26 307.77 L708.59 302.01 L706.79 296.3 L704.76 290.64 L702.52 285.05 L700.24 279.54 L697.89 274.12 L695.44 268.8 L692.85 263.61 L690.11 258.56 L687.53 253.66 L685.41 248.94 L683.28 244.42 L681.15 240.1 L679.02 236.01 L676.89 232.14 L674.75 228.52 L672.61 225.12 L670.47 221.96 L668.32 219.01 L666.18 216.28 L664.03 213.74 L661.87 211.39 L659.72 209.19 L657.56 207.14 L655.4 205.22 L653.23 203.4 L651.06 201.69 L648.89 200.07 L646.72 198.51 L644.55 197.03 L642.37 195.6 L640.19 194.22 L638 192.88 L635.81 191.59 L633.62 190.33 L631.43 189.1 L629.24 187.9 L627.04 186.73 L624.84 185.59 L622.63 184.47 L620.43 183.38 L618.22 182.31 L616 181.27 L613.79 180.25 L611.57 179.25 L609.35 178.28 L607.13 177.33 L604.9 176.4 L602.67 175.5 L600.44 174.62 L598.2 173.83 L595.97 173 L593.73 172.19 L591.49 171.39 L589.26 170.6 L587.02 169.82 L584.79 169.06 L582.55 168.32 L580.31 167.6 L578.08 166.88 L575.84 166.15 L573.6 165.42 L571.37 164.7 L569.13 164 L566.9 163.32 L564.66 162.68 L562.42 162.08 L560.19 161.54 L557.95 161.05 L555.71 160.58 L553.48 160.14 L551.24 159.73 L549 159.34 L546.77 158.98 L544.53 158.64 L542.3 158.32 L540.06 158.02 L537.82 157.73 L535.59 157.47 L533.35 157.22 L531.11 156.99 L528.88 156.77 L526.64 156.56 L524.41 156.36 L522.17 156.17 L519.93 155.99 L517.7 155.82 L515.46 155.66 L513.22 155.51 L510.99 155.37 L508.75 155.24 L506.52 155.11 L504.28 155 L502.04 154.89 L499.81 154.79 L497.57 154.7 L495.33 154.62 L493.1 154.54 L490.86 154.47 L488.63 154.4 L486.39 154.34 L484.15 154.29 L481.92 154.24 L479.68 154.19 L477.44 154.15 L475.21 154.12 L472.97 154.09 L470.73 154.06 L468.5 154.03 L466.26 154.01 L464.03 153.99 L461.79 153.97 L459.55 153.96 L457.32 153.95 L455.08 153.94 L452.84 153.94 L450.61 153.94 L448.37 153.95 L446.14 153.96 L443.9 153.97 L441.66 153.99 L439.43 154.01 L437.19 154.03 L434.95 154.06 L432.72 154.1 L430.48 154.14 L428.25 154.18 L426.01 154.23 L423.77 154.28 L421.54 154.34 L419.3 154.4 L417.06 154.46 L414.83 154.53 L412.59 154.59 L410.36 154.66 L408.12 154.73 L405.88 154.81 L403.65 154.88 L401.41 154.95 L399.17 155.03 L396.94 155.11 L394.7 155.19 L392.47 155.28 L390.23 155.37 L387.99 155.46 L385.76 155.55 L383.52 155.65 L381.28 155.75 L379.05 155.85 L376.81 155.95 L374.57 156.06 L372.34 156.16 L370.1 156.26 L367.87 156.36 L365.63 156.47 L363.39 156.57 L361.16 156.66 L358.92 156.76 L356.68 156.86 L354.45 156.95 L352.21 157.04 L349.98 157.14 L347.74 157.23 L345.5 157.32 L343.27 157.41 L341.03 157.5 L338.79 157.6 L336.56 157.69 L334.32 157.78 L332.09 157.87 L329.85 157.96 L327.61 158.05 L325.38 158.14 L323.14 158.23 L320.9 158.32 L318.67 158.41 L316.43 158.5 L314.2 158.59 L311.96 158.68 L309.72 158.76 L307.49 158.85 L305.25 158.94 L303.01 159.03 L300.78 159.12 L298.54 159.21 L296.3 159.3 L294.07 159.39 L291.83 159.48 L289.6 159.57 L287.36 159.66 L285.12 159.74 L282.89 159.83 L280.65 159.92 L278.41 160.01 L276.18 160.1 L273.94 160.19 L271.71 160.29 L269.47 160.38 L267.23 160.47 L265 160.56 L262.76 160.65 L260.52 160.74 L258.29 160.84 L256.05 160.93 L253.82 161.02 L251.58 161.12 L249.34 161.21 L247.11 161.31 L244.87 161.4 L242.63 161.5 L240.4 161.6 L238.16 161.69 L235.93 161.79 L233.69 161.89 L231.45 161.98 L229.22 162.08 L226.98 162.17 L224.74 162.27 L222.51 162.36 L220.27 162.46 L218.03 162.55 L215.8 162.65 L213.56 162.74 L211.33 162.83 L209.09 162.93 L206.85 163.02 L204.62 163.11 L202.38 163.21 L200.14 163.3 L197.91 163.4 L195.67 163.49 L193.44 163.59 L191.2 163.68 L188.96 163.78 L186.73 163.87 L184.49 163.97 L182.25 164.07 L180.02 164.17 L177.78 164.26 L175.55 164.36 L173.31 164.46 L171.07 164.57 L168.84 164.67 L166.6 164.77 L164.36 164.88 L162.13 164.98 L159.89 165.09 L157.66 165.2 L155.42 165.31 L153.18 165.42 L150.95 165.53 L148.71 165.64 L146.47 165.75 L144.24 165.87 L142 165.99 L139.76 166.11 L137.53 166.23 L135.29 166.35 L133.06 166.48 L130.82 166.6 L128.58 166.73 L126.35 166.86 L124.11 166.99 L121.87 167.13 L119.64 167.28 L117.4 167.45 L115.17 167.61 L112.93 167.78 L110.69 167.95 L108.46 168 L106.22 168 L103.98 168 L101.75 168 Z" fill="#EE7733" fill-opacity="0.1" stroke="#EE7733" stroke-opacity="0.1" stroke-width="2.7" stroke-linejoin="round"/>
</g>
<path d="M204.05 420.25 V392.9 M204.05 88.5 V114.9 M362.05 420.25 V392.9 M362.05 88.5 V114.9 M520 420.25 V392.9 M520 88.5 V114.9 M677 420.25 V392.9 M677 88.5 V114.9 M121.5 120.9 H148 M789.7 120.9 H762.2 M121.5 225 H148 M789.7 225 H762.2 M121.5 328.9 H148 M789.7 328.9 H762.2" stroke="#000" stroke-width="4.0" fill="none"/>
<g clip-path="url(#ax)" fill="none" stroke-width="4.17" stroke-linejoin="round">
<path d="M100 112.69 L100.92 112.79 L101.84 112.89 L102.76 113 L103.68 113.1 L104.6 113.2 L105.52 113.3 L106.44 113.41 L107.36 113.51 L108.28 113.61 L109.2 113.71 L110.12 113.82 L111.05 113.92 L111.97 114.02 L112.89 114.13 L113.81 114.23 L114.73 114.33 L115.65 114.43 L116.57 114.54 L117.49 114.64 L118.41 114.74 L119.33 114.84 L120.25 114.95 L121.17 115.05 L122.09 115.15 L123.01 115.25 L123.93 115.36 L124.86 115.46 L125.78 115.56 L126.7 115.66 L127.62 115.77 L128.54 115.87 L129.46 115.97 L130.38 116.08 L131.3 116.18 L132.22 116.28 L133.14 116.38 L134.06 116.49 L134.98 116.59 L135.9 116.69 L136.82 116.79 L137.74 116.9 L138.66 117 L139.59 117.1 L140.51 117.2 L141.43 117.31 L142.35 117.41 L143.27 117.51 L144.19 117.61 L145.11 117.71 L146.03 117.82 L146.95 117.92 L147.87 118.02 L148.79 118.12 L149.71 118.23 L150.63 118.33 L151.55 118.43 L152.47 118.53 L153.39 118.64 L154.32 118.74 L155.24 118.84 L156.16 118.94 L157.08 119.05 L158 119.15 L158.92 119.25 L159.84 119.35 L160.76 119.46 L161.68 119.56 L162.6 119.66 L163.52 119.76 L164.44 119.87 L165.36 119.97 L166.28 120.07 L167.2 120.17 L168.12 120.27 L169.05 120.38 L169.97 120.48 L170.89 120.58 L171.81 120.68 L172.73 120.79 L173.65 120.89 L174.57 120.99 L175.49 121.09 L176.41 121.2 L177.33 121.3 L178.25 121.4 L179.17 121.5 L180.09 121.6 L181.01 121.71 L181.93 121.81 L182.86 121.91 L183.78 122.01 L184.7 122.12 L185.62 122.22 L186.54 122.32 L187.46 122.42 L188.38 122.53 L189.3 122.63 L190.22 122.73 L191.14 122.83 L192.06 122.93 L192.98 123.04 L193.9 123.14 L194.82 123.24 L195.74 123.34 L196.66 123.45 L197.59 123.55 L198.51 123.65 L199.43 123.75 L200.35 123.86 L201.27 123.96 L202.19 124.06 L203.11 124.16 L204.03 124.26 L204.95 124.37 L205.87 124.47 L206.79 124.57 L207.71 124.67 L208.63 124.78 L209.55 124.88 L210.47 124.98 L211.39 125.08 L212.32 125.19 L213.24 125.29 L214.16 125.39 L215.08 125.49 L216 125.59 L216.92 125.7 L217.84 125.8 L218.76 125.9 L219.68 126 L220.6 126.11 L221.52 126.21 L222.44 126.31 L223.36 126.41 L224.28 126.52 L225.2 126.62 L226.12 126.72 L227.05 126.82 L227.97 126.92 L228.89 127.03 L229.81 127.13 L230.73 127.23 L231.65 127.33 L232.57 127.44 L233.49 127.54 L234.41 127.64 L235.33 127.74 L236.25 127.85 L237.17 127.95 L238.09 128.05 L239.01 128.15 L239.93 128.26 L240.85 128.36 L241.78 128.46 L242.7 128.56 L243.62 128.66 L244.54 128.77 L245.46 128.87 L246.38 128.97 L247.3 129.07 L248.22 129.18 L249.14 129.28 L250.06 129.38 L250.98 129.48 L251.9 129.59 L252.82 129.69 L253.74 129.79 L254.66 129.89 L255.58 130 L256.51 130.1 L257.43 130.2 L258.35 130.3 L259.27 130.41 L260.19 130.51 L261.11 130.61 L262.03 130.71 L262.95 130.82 L263.87 130.92 L264.79 131.02 L265.71 131.12 L266.63 131.23 L267.55 131.33 L268.47 131.43 L269.39 131.53 L270.31 131.64 L271.23 131.74 L272.16 131.84 L273.08 131.94 L274 132.05 L274.92 132.15 L275.84 132.25 L276.76 132.35 L277.68 132.46 L278.6 132.56 L279.52 132.66 L280.44 132.76 L281.36 132.87 L282.28 132.97 L283.2 133.07 L284.12 133.18 L285.04 133.28 L285.96 133.38 L286.88 133.48 L287.81 133.59 L288.73 133.69 L289.65 133.79 L290.57 133.89 L291.49 134 L292.41 134.1 L293.33 134.2 L294.25 134.3 L295.17 134.41 L296.09 134.51 L297.01 134.61 L297.93 134.72 L298.85 134.82 L299.77 134.92 L300.69 135.02 L301.61 135.13 L302.53 135.23 L303.45 135.33 L304.38 135.44 L305.3 135.54 L306.22 135.64 L307.14 135.74 L308.06 135.85 L308.98 135.95 L309.9 136.05 L310.82 136.16 L311.74 136.26 L312.66 136.36 L313.58 136.46 L314.5 136.57 L315.42 136.67 L316.34 136.77 L317.26 136.88 L318.18 136.98 L319.1 137.08 L320.02 137.19 L320.95 137.29 L321.87 137.39 L322.79 137.49 L323.71 137.6 L324.63 137.7 L325.55 137.8 L326.47 137.91 L327.39 138.01 L328.31 138.11 L329.23 138.22 L330.15 138.32 L331.07 138.42 L331.99 138.53 L332.91 138.63 L333.83 138.73 L334.75 138.84 L335.67 138.94 L336.59 139.04 L337.51 139.15 L338.44 139.25 L339.36 139.35 L340.28 139.46 L341.2 139.56 L342.12 139.66 L343.04 139.77 L343.96 139.87 L344.88 139.97 L345.8 140.08 L346.72 140.18 L347.64 140.28 L348.56 140.39 L349.48 140.49 L350.4 140.59 L351.32 140.7 L352.24 140.8 L353.16 140.9 L354.08 141.01 L355 141.11 L355.92 141.21 L356.85 141.32 L357.77 141.42 L358.69 141.52 L359.61 141.63 L360.53 141.73 L361.45 141.84 L362.37 141.94 L363.29 142.04 L364.21 142.15 L365.13 142.25 L366.05 142.35 L366.97 142.46 L367.89 142.56 L368.81 142.66 L369.73 142.77 L370.65 142.87 L371.57 142.98 L372.49 143.08 L373.41 143.18 L374.33 143.29 L375.25 143.39 L376.17 143.5 L377.1 143.6 L378.02 143.7 L378.94 143.81 L379.86 143.91 L380.78 144.02 L381.7 144.12 L382.62 144.22 L383.54 144.33 L384.46 144.43 L385.38 144.54 L386.3 144.64 L387.22 144.74 L388.14 144.85 L389.06 144.95 L389.98 145.06 L390.9 145.16 L391.82 145.26 L392.74 145.37 L393.66 145.47 L394.58 145.58 L395.5 145.68 L396.42 145.79 L397.34 145.89 L398.27 145.99 L399.19 146.1 L400.11 146.2 L401.03 146.31 L401.95 146.41 L402.87 146.52 L403.79 146.62 L404.71 146.72 L405.63 146.83 L406.55 146.93 L407.47 147.04 L408.39 147.14 L409.31 147.25 L410.23 147.35 L411.15 147.46 L412.07 147.56 L412.99 147.67 L413.91 147.77 L414.83 147.88 L415.75 147.98 L416.67 148.08 L417.59 148.19 L418.51 148.29 L419.43 148.4 L420.35 148.5 L421.27 148.61 L422.2 148.71 L423.12 148.82 L424.04 148.92 L424.96 149.03 L425.88 149.13 L426.8 149.24 L427.72 149.34 L428.64 149.45 L429.56 149.55 L430.48 149.66 L431.4 149.76 L432.32 149.87 L433.24 149.97 L434.16 150.08 L435.08 150.18 L436 150.29 L436.92 150.39 L437.84 150.5 L438.76 150.6 L439.68 150.71 L440.6 150.81 L441.52 150.92 L442.44 151.03 L443.36 151.13 L444.28 151.24 L445.2 151.34 L446.12 151.45 L447.04 151.55 L447.96 151.66 L448.88 151.76 L449.81 151.87 L450.73 151.97 L451.65 152.08 L452.57 152.19 L453.49 152.29 L454.41 152.4 L455.33 152.5 L456.25 152.61 L457.17 152.71 L458.09 152.82 L459.01 152.92 L459.93 153.03 L460.85 153.14 L461.77 153.24 L462.69 153.35 L463.61 153.45 L464.53 153.56 L465.45 153.67 L466.37 153.77 L467.29 153.88 L468.21 153.98 L469.13 154.09 L470.05 154.2 L470.97 154.3 L471.89 154.41 L472.81 154.51 L473.73 154.62 L474.65 154.73 L475.57 154.83 L476.49 154.94 L477.41 155.05 L478.33 155.15 L479.25 155.26 L480.17 155.36 L481.09 155.47 L482.01 155.58 L482.93 155.68 L483.85 155.79 L484.78 155.9 L485.7 156 L486.62 156.11 L487.54 156.22 L488.46 156.32 L489.38 156.43 L490.3 156.54 L491.22 156.64 L492.14 156.75 L493.06 156.86 L493.98 156.96 L494.9 157.07 L495.82 157.18 L496.74 157.28 L497.66 157.39 L498.58 157.5 L499.5 157.6 L500.42 157.71 L501.34 157.82 L502.26 157.92 L503.18 158.03 L504.1 158.14 L505.02 158.25 L505.94 158.35 L506.86 158.46 L507.78 158.57 L508.7 158.67 L509.62 158.78 L510.54 158.89 L511.46 159 L512.38 159.1 L513.3 159.21 L514.22 159.32 L515.14 159.43 L516.06 159.53 L516.98 159.64 L517.9 159.75 L518.82 159.85 L519.74 159.96 L520.66 160.07 L521.58 160.18 L522.5 160.29 L523.42 160.39 L524.34 160.5 L525.26 160.61 L526.18 160.72 L527.1 160.82 L528.02 160.93 L528.94 161.04 L529.86 161.15 L530.78 161.25 L531.7 161.36 L532.62 161.47 L533.54 161.58 L534.46 161.68 L535.38 161.79 L536.3 161.9 L537.22 162 L538.14 162.11 L539.06 162.22 L539.98 162.33 L540.9 162.43 L541.82 162.54 L542.74 162.64 L543.66 162.75 L544.58 162.86 L545.5 162.96 L546.42 163.07 L547.34 163.17 L548.26 163.28 L549.18 163.39 L550.1 163.49 L551.02 163.6 L551.94 163.7 L552.86 163.81 L553.78 163.91 L554.7 164.02 L555.62 164.12 L556.54 164.23 L557.46 164.34 L558.38 164.45 L559.3 164.55 L560.22 164.66 L561.14 164.78 L562.06 164.89 L562.98 165 L563.89 165.12 L564.81 165.24 L565.73 165.36 L566.65 165.48 L567.56 165.6 L568.48 165.73 L569.39 165.86 L570.31 165.99 L571.22 166.12 L572.14 166.26 L573.05 166.4 L573.97 166.54 L574.88 166.69 L575.79 166.84 L576.7 166.99 L577.61 167.15 L578.52 167.31 L579.43 167.47 L580.34 167.64 L581.25 167.81 L582.16 167.98 L583.07 168.16 L583.97 168.35 L584.88 168.53 L585.78 168.72 L586.69 168.92 L587.59 169.12 L588.5 169.32 L589.4 169.53 L590.3 169.74 L591.2 169.95 L592.1 170.17 L593 170.39 L593.9 170.62 L594.8 170.85 L595.69 171.08 L596.59 171.31 L597.49 171.55 L598.38 171.8 L599.27 172.04 L600.17 172.29 L601.06 172.55 L601.95 172.81 L602.84 173.07 L603.73 173.33 L604.62 173.6 L605.51 173.88 L606.4 174.15 L607.28 174.43 L608.17 174.72 L609.05 175.01 L609.93 175.3 L610.81 175.6 L611.69 175.91 L612.56 176.21 L613.44 176.53 L614.31 176.85 L615.18 177.17 L616.04 177.5 L616.91 177.84 L617.77 178.18 L618.63 178.53 L619.48 178.88 L620.33 179.24 L621.18 179.61 L622.03 179.98 L622.87 180.36 L623.71 180.75 L624.54 181.15 L625.37 181.55 L626.2 181.96 L627.02 182.38 L627.84 182.8 L628.66 183.24 L629.47 183.68 L630.27 184.13 L631.07 184.59 L631.87 185.05 L632.66 185.53 L633.45 186.01 L634.23 186.49 L635.01 186.99 L635.79 187.49 L636.56 188 L637.32 188.52 L638.09 189.04 L638.84 189.57 L639.6 190.11 L640.34 190.65 L641.09 191.2 L641.83 191.75 L642.56 192.31 L643.29 192.88 L644.02 193.46 L644.74 194.03 L645.46 194.62 L646.18 195.21 L646.88 195.81 L647.59 196.41 L648.29 197.02 L648.99 197.63 L649.68 198.25 L650.37 198.87 L651.05 199.49 L651.73 200.13 L652.4 200.76 L653.07 201.41 L653.74 202.05 L654.4 202.7 L655.06 203.36 L655.71 204.02 L656.36 204.68 L657 205.35 L657.65 206.03 L658.28 206.7 L658.91 207.38 L659.54 208.07 L660.16 208.76 L660.78 209.45 L661.39 210.15 L662 210.85 L662.61 211.55 L663.21 212.26 L663.81 212.97 L664.4 213.68 L664.99 214.4 L665.57 215.12 L666.15 215.84 L666.73 216.57 L667.3 217.3 L667.87 218.03 L668.43 218.76 L668.99 219.5 L669.54 220.24 L670.09 220.98 L670.64 221.73 L671.18 222.48 L671.72 223.22 L672.26 223.98 L672.8 224.73 L673.33 225.48 L673.86 226.24 L674.39 227 L674.92 227.75 L675.44 228.51 L675.96 229.27 L676.49 230.04 L677.01 230.8 L677.53 231.56 L678.05 232.33 L678.57 233.09 L679.09 233.85 L679.6 234.62 L680.12 235.38 L680.64 236.15 L681.16 236.91 L681.68 237.68 L682.2 238.44 L682.72 239.2 L683.24 239.97 L683.76 240.73 L684.28 241.5 L684.8 242.26 L685.32 243.03 L685.84 243.79 L686.37 244.55 L686.89 245.32 L687.41 246.08 L687.93 246.84 L688.45 247.61 L688.97 248.37 L689.5 249.14 L690.02 249.9 L690.54 250.66 L691.06 251.43 L691.59 252.19 L692.11 252.96 L692.63 253.72 L693.15 254.48 L693.68 255.25 L694.2 256.01 L694.72 256.78 L695.25 257.54 L695.77 258.3 L696.29 259.07 L696.82 259.83 L697.34 260.6 L697.86 261.36 L698.38 262.12 L698.91 262.89 L699.43 263.65 L699.95 264.42 L700.47 265.18 L701 265.95 L701.52 266.71 L702.04 267.48 L702.56 268.24 L703.09 269.01 L703.61 269.77 L704.13 270.54 L704.65 271.3 L705.17 272.07 L705.69 272.83 L706.21 273.6 L706.74 274.37 L707.26 275.13 L707.78 275.9 L708.3 276.66 L708.82 277.43 L709.34 278.2 L709.86 278.96 L710.38 279.73 L710.9 280.5 L711.42 281.26 L711.94 282.03 L712.46 282.8 L712.98 283.56 L713.5 284.33 L714.01 285.1 L714.53 285.87 L715.05 286.63 L715.57 287.4 L716.09 288.17 L716.61 288.94 L717.12 289.7 L717.64 290.47 L718.16 291.24 L718.68 292.01 L719.2 292.78 L719.71 293.54 L720.23 294.31 L720.75 295.08 L721.27 295.85 L721.78 296.62 L722.3 297.39 L722.82 298.16 L723.33 298.92 L723.85 299.69 L724.37 300.46 L724.88 301.23 L725.4 302 L725.91 302.77 L726.43 303.54 L726.95 304.31 L727.46 305.08 L727.98 305.85 L728.49 306.62 L729.01 307.39 L729.52 308.16 L730.04 308.92 L730.55 309.69 L731.07 310.46 L731.58 311.23 L732.1 312 L732.61 312.77 L733.13 313.54 L733.64 314.31 L734.16 315.08 L734.67 315.86 L735.19 316.63 L735.7 317.4 L736.22 318.17 L736.73 318.94 L737.25 319.71 L737.76 320.48 L738.27 321.25 L738.79 322.02 L739.3 322.79 L739.81 323.56 L740.33 324.33 L740.84 325.1 L741.36 325.87 L741.87 326.64 L742.38 327.42 L742.9 328.19 L743.41 328.96 L743.92 329.73 L744.44 330.5 L744.95 331.27 L745.46 332.04 L745.98 332.81 L746.49 333.58 L747 334.36 L747.52 335.13 L748.03 335.9 L748.54 336.67 L749.05 337.44 L749.57 338.21 L750.08 338.98 L750.59 339.76 L751.1 340.53 L751.62 341.3 L752.13 342.07 L752.64 342.84 L753.16 343.61 L753.67 344.39 L754.18 345.16 L754.69 345.93 L755.21 346.7 L755.72 347.47 L756.23 348.24 L756.74 349.02 L757.26 349.79 L757.77 350.56 L758.28 351.33 L758.79 352.1 L759.3 352.87 L759.82 353.65 L760.33 354.42 L760.84 355.19 L761.35 355.96 L761.87 356.73 L762.38 357.5 L762.89 358.28 L763.4 359.05 L763.92 359.82 L764.43 360.59 L764.94 361.36 L765.45 362.14 L765.96 362.91 L766.48 363.68 L766.99 364.45 L767.5 365.22 L768.01 365.99 L768.53 366.77 L769.04 367.54 L769.55 368.31 L770.06 369.08 L770.58 369.85 L771.09 370.62 L771.6 371.4 L772.11 372.17 L772.63 372.94 L773.14 373.71 L773.65 374.48 L774.16 375.25 L774.68 376.03 L775.19 376.8 L775.7 377.57 L776.21 378.34 L776.73 379.11 L777.24 379.88 L777.75 380.65 L778.27 381.43 L778.78 382.2 L779.29 382.97 L779.8 383.74 L780.32 384.51 L780.83 385.28 L781.34 386.05 L781.86 386.82 L782.37 387.6 L782.88 388.37 L783.4 389.14 L783.91 389.91 L784.42 390.68 L784.94 391.45 L785.45 392.22 L785.97 392.99 L786.48 393.76 L786.99 394.53 L787.51 395.3 L788.02 396.07 L788.53 396.84 L789.05 397.62 L789.56 398.39 L790.08 399.16 L790.59 399.93 L791.11 400.7 L791.62 401.47 L792.13 402.24 L792.65 403.01 L793.16 403.78 L793.68 404.55 L794.19 405.32 L794.71 406.09 L795.22 406.86 L795.74 407.63 L796.25 408.4 L796.77 409.17 L797.29 409.94 L797.8 410.71 L798.32 411.47 L798.83 412.24 L799.35 413.01 L799.86 413.78 L800.38 414.55 L800.9 415.32 L801.41 416.09 L801.93 416.86 L802.44 417.63 L802.96 418.4 L803.48 419.17 L803.99 419.93 L804.51 420.7 L805.03 421.47" stroke="#66CCEE"/>
<path d="M101.75 150.82 L102.49 150.82 L103.24 150.82 L103.98 150.82 L104.73 150.82 L105.48 150.82 L106.22 150.82 L106.97 150.82 L107.71 150.82 L108.46 150.82 L109.2 150.82 L109.95 150.82 L110.69 150.82 L111.44 150.82 L112.18 150.82 L112.93 150.82 L113.67 150.82 L114.42 150.82 L115.17 150.82 L115.91 150.82 L116.66 150.82 L117.4 150.82 L118.15 150.82 L118.89 150.82 L119.64 150.82 L120.38 150.82 L121.13 150.82 L121.87 150.82 L122.62 150.82 L123.37 150.82 L124.11 150.82 L124.86 150.82 L125.6 150.82 L126.35 150.82 L127.09 150.82 L127.84 150.82 L128.58 150.82 L129.33 150.82 L130.07 150.82 L130.82 150.82 L131.57 150.82 L132.31 150.82 L133.06 150.82 L133.8 150.82 L134.55 150.82 L135.29 150.82 L136.04 150.82 L136.78 150.82 L137.53 150.82 L138.27 150.82 L139.02 150.82 L139.76 150.82 L140.51 150.82 L141.26 150.82 L142 150.82 L142.75 150.82 L143.49 150.82 L144.24 150.82 L144.98 150.82 L145.73 150.82 L146.47 150.82 L147.22 150.82 L147.96 150.82 L148.71 150.82 L149.46 150.82 L150.2 150.82 L150.95 150.82 L151.69 150.82 L152.44 150.82 L153.18 150.82 L153.93 150.82 L154.67 150.82 L155.42 150.82 L156.16 150.82 L156.91 150.82 L157.66 150.82 L158.4 150.82 L159.15 150.82 L159.89 150.82 L160.64 150.82 L161.38 150.82 L162.13 150.82 L162.87 150.82 L163.62 150.82 L164.36 150.82 L165.11 150.82 L165.85 150.82 L166.6 150.82 L167.35 150.82 L168.09 150.82 L168.84 150.82 L169.58 150.82 L170.33 150.82 L171.07 150.82 L171.82 150.82 L172.56 150.82 L173.31 150.82 L174.05 150.82 L174.8 150.82 L175.55 150.82 L176.29 150.82 L177.04 150.82 L177.78 150.82 L178.53 150.82 L179.27 150.82 L180.02 150.82 L180.76 150.82 L181.51 150.82 L182.25 150.82 L183 150.82 L183.75 150.82 L184.49 150.82 L185.24 150.82 L185.98 150.82 L186.73 150.82 L187.47 150.82 L188.22 150.82 L188.96 150.82 L189.71 150.82 L190.45 150.82 L191.2 150.82 L191.94 150.82 L192.69 150.82 L193.44 150.82 L194.18 150.82 L194.93 150.82 L195.67 150.82 L196.42 150.82 L197.16 150.82 L197.91 150.82 L198.65 150.82 L199.4 150.82 L200.14 150.82 L200.89 150.82 L201.64 150.82 L202.38 150.82 L203.13 150.82 L203.87 150.82 L204.62 150.82 L205.36 150.82 L206.11 150.82 L206.85 150.82 L207.6 150.82 L208.34 150.82 L209.09 150.82 L209.84 150.82 L210.58 150.82 L211.33 150.82 L212.07 150.82 L212.82 150.82 L213.56 150.82 L214.31 150.82 L215.05 150.82 L215.8 150.82 L216.54 150.82 L217.29 150.82 L218.03 150.82 L218.78 150.82 L219.53 150.82 L220.27 150.82 L221.02 150.82 L221.76 150.82 L222.51 150.82 L223.25 150.82 L224 150.82 L224.74 150.82 L225.49 150.82 L226.23 150.82 L226.98 150.82 L227.73 150.82 L228.47 150.82 L229.22 150.82 L229.96 150.82 L230.71 150.82 L231.45 150.82 L232.2 150.82 L232.94 150.82 L233.69 150.82 L234.43 150.82 L235.18 150.82 L235.93 150.82 L236.67 150.82 L237.42 150.82 L238.16 150.82 L238.91 150.82 L239.65 150.82 L240.4 150.82 L241.14 150.82 L241.89 150.82 L242.63 150.82 L243.38 150.82 L244.12 150.82 L244.87 150.82 L245.62 150.82 L246.36 150.82 L247.11 150.82 L247.85 150.82 L248.6 150.82 L249.34 150.82 L250.09 150.82 L250.83 150.82 L251.58 150.82 L252.32 150.82 L253.07 150.82 L253.82 150.82 L254.56 150.82 L255.31 150.82 L256.05 150.82 L256.8 150.82 L257.54 150.82 L258.29 150.82 L259.03 150.82 L259.78 150.82 L260.52 150.82 L261.27 150.82 L262.02 150.82 L262.76 150.82 L263.51 150.82 L264.25 150.82 L265 150.82 L265.74 150.82 L266.49 150.82 L267.23 150.82 L267.98 150.82 L268.72 150.82 L269.47 150.82 L270.21 150.82 L270.96 150.82 L271.71 150.82 L272.45 150.82 L273.2 150.82 L273.94 150.82 L274.69 150.82 L275.43 150.82 L276.18 150.82 L276.92 150.82 L277.67 150.82 L278.41 150.82 L279.16 150.82 L279.91 150.82 L280.65 150.82 L281.4 150.82 L282.14 150.82 L282.89 150.82 L283.63 150.82 L284.38 150.82 L285.12 150.82 L285.87 150.82 L286.61 150.82 L287.36 150.82 L288.11 150.82 L288.85 150.82 L289.6 150.82 L290.34 150.82 L291.09 150.82 L291.83 150.82 L292.58 150.82 L293.32 150.83 L294.07 150.83 L294.81 150.83 L295.56 150.83 L296.3 150.83 L297.05 150.83 L297.8 150.83 L298.54 150.83 L299.29 150.83 L300.03 150.83 L300.78 150.83 L301.52 150.83 L302.27 150.83 L303.01 150.83 L303.76 150.83 L304.5 150.83 L305.25 150.83 L306 150.83 L306.74 150.83 L307.49 150.83 L308.23 150.83 L308.98 150.83 L309.72 150.83 L310.47 150.83 L311.21 150.83 L311.96 150.83 L312.7 150.83 L313.45 150.83 L314.2 150.83 L314.94 150.83 L315.69 150.83 L316.43 150.83 L317.18 150.83 L317.92 150.83 L318.67 150.83 L319.41 150.83 L320.16 150.83 L320.9 150.83 L321.65 150.83 L322.39 150.83 L323.14 150.83 L323.89 150.83 L324.63 150.83 L325.38 150.83 L326.12 150.83 L326.87 150.83 L327.61 150.83 L328.36 150.83 L329.1 150.84 L329.85 150.84 L330.59 150.84 L331.34 150.84 L332.09 150.84 L332.83 150.84 L333.58 150.84 L334.32 150.84 L335.07 150.84 L335.81 150.84 L336.56 150.84 L337.3 150.84 L338.05 150.84 L338.79 150.84 L339.54 150.84 L340.29 150.84 L341.03 150.84 L341.78 150.84 L342.52 150.84 L343.27 150.84 L344.01 150.84 L344.76 150.84 L345.5 150.84 L346.25 150.84 L346.99 150.85 L347.74 150.85 L348.48 150.85 L349.23 150.85 L349.98 150.85 L350.72 150.85 L351.47 150.85 L352.21 150.85 L352.96 150.85 L353.7 150.85 L354.45 150.85 L355.19 150.85 L355.94 150.85 L356.68 150.85 L357.43 150.85 L358.18 150.86 L358.92 150.86 L359.67 150.86 L360.41 150.86 L361.16 150.86 L361.9 150.86 L362.65 150.86 L363.39 150.86 L364.14 150.86 L364.88 150.86 L365.63 150.86 L366.38 150.86 L367.12 150.87 L367.87 150.87 L368.61 150.87 L369.36 150.87 L370.1 150.87 L370.85 150.87 L371.59 150.87 L372.34 150.87 L373.08 150.87 L373.83 150.88 L374.57 150.88 L375.32 150.88 L376.07 150.88 L376.81 150.88 L377.56 150.88 L378.3 150.88 L379.05 150.88 L379.79 150.89 L380.54 150.89 L381.28 150.89 L382.03 150.89 L382.77 150.89 L383.52 150.89 L384.27 150.9 L385.01 150.9 L385.76 150.9 L386.5 150.9 L387.25 150.9 L387.99 150.9 L388.74 150.91 L389.48 150.91 L390.23 150.91 L390.97 150.91 L391.72 150.91 L392.47 150.92 L393.21 150.92 L393.96 150.92 L394.7 150.92 L395.45 150.92 L396.19 150.93 L396.94 150.93 L397.68 150.93 L398.43 150.93 L399.17 150.94 L399.92 150.94 L400.66 150.94 L401.41 150.94 L402.16 150.95 L402.9 150.95 L403.65 150.95 L404.39 150.95 L405.14 150.96 L405.88 150.96 L406.63 150.96 L407.37 150.97 L408.12 150.97 L408.86 150.97 L409.61 150.98 L410.36 150.98 L411.1 150.98 L411.85 150.99 L412.59 150.99 L413.34 150.99 L414.08 151 L414.83 151 L415.57 151.01 L416.32 151.01 L417.06 151.01 L417.81 151.02 L418.56 151.02 L419.3 151.03 L420.05 151.03 L420.79 151.04 L421.54 151.04 L422.28 151.05 L423.03 151.05 L423.77 151.06 L424.52 151.06 L425.26 151.07 L426.01 151.07 L426.75 151.08 L427.5 151.08 L428.25 151.09 L428.99 151.09 L429.74 151.1 L430.48 151.11 L431.23 151.11 L431.97 151.12 L432.72 151.12 L433.46 151.13 L434.21 151.14 L434.95 151.14 L435.7 151.15 L436.45 151.16 L437.19 151.17 L437.94 151.17 L438.68 151.18 L439.43 151.19 L440.17 151.2 L440.92 151.21 L441.66 151.21 L442.41 151.22 L443.15 151.23 L443.9 151.24 L444.64 151.25 L445.39 151.26 L446.14 151.27 L446.88 151.28 L447.63 151.29 L448.37 151.3 L449.12 151.31 L449.86 151.32 L450.61 151.33 L451.35 151.34 L452.1 151.35 L452.84 151.36 L453.59 151.37 L454.34 151.39 L455.08 151.4 L455.83 151.41 L456.57 151.42 L457.32 151.44 L458.06 151.45 L458.81 151.46 L459.55 151.48 L460.3 151.49 L461.04 151.5 L461.79 151.52 L462.54 151.53 L463.28 151.55 L464.03 151.56 L464.77 151.58 L465.52 151.6 L466.26 151.61 L467.01 151.63 L467.75 151.65 L468.5 151.67 L469.24 151.68 L469.99 151.7 L470.73 151.72 L471.48 151.74 L472.23 151.76 L472.97 151.78 L473.72 151.8 L474.46 151.82 L475.21 151.84 L475.95 151.86 L476.7 151.89 L477.44 151.91 L478.19 151.93 L478.93 151.96 L479.68 151.98 L480.43 152 L481.17 152.03 L481.92 152.05 L482.66 152.08 L483.41 152.11 L484.15 152.13 L484.9 152.16 L485.64 152.19 L486.39 152.22 L487.13 152.25 L487.88 152.28 L488.63 152.31 L489.37 152.34 L490.12 152.37 L490.86 152.41 L491.61 152.44 L492.35 152.47 L493.1 152.51 L493.84 152.54 L494.59 152.58 L495.33 152.62 L496.08 152.65 L496.82 152.69 L497.57 152.73 L498.32 152.77 L499.06 152.81 L499.81 152.85 L500.55 152.9 L501.3 152.94 L502.04 152.98 L502.79 153.03 L503.53 153.07 L504.28 153.12 L505.02 153.17 L505.77 153.21 L506.52 153.26 L507.26 153.31 L508.01 153.37 L508.75 153.42 L509.5 153.47 L510.24 153.53 L510.99 153.58 L511.73 153.64 L512.48 153.7 L513.22 153.75 L513.97 153.81 L514.72 153.87 L515.46 153.94 L516.21 154 L516.95 154.06 L517.7 154.13 L518.44 154.2 L519.19 154.26 L519.93 154.33 L520.68 154.4 L521.42 154.48 L522.17 154.55 L522.91 154.62 L523.66 154.7 L524.41 154.78 L525.15 154.86 L525.9 154.94 L526.64 155.02 L527.39 155.1 L528.13 155.19 L528.88 155.27 L529.62 155.36 L530.37 155.45 L531.11 155.54 L531.86 155.63 L532.61 155.73 L533.35 155.82 L534.1 155.92 L534.84 156.02 L535.59 156.12 L536.33 156.22 L537.08 156.33 L537.82 156.43 L538.57 156.54 L539.31 156.65 L540.06 156.76 L540.81 156.87 L541.55 156.99 L542.3 157.11 L543.04 157.23 L543.79 157.35 L544.53 157.47 L545.28 157.59 L546.02 157.72 L546.77 157.85 L547.51 157.98 L548.26 158.11 L549 158.25 L549.75 158.39 L550.5 158.53 L551.24 158.67 L551.99 158.81 L552.73 158.96 L553.48 159.1 L554.22 159.25 L554.97 159.41 L555.71 159.56 L556.46 159.72 L557.2 159.88 L557.95 160.04 L558.7 160.2 L559.44 160.37 L560.19 160.54 L560.93 160.71 L561.68 160.88 L562.42 161.06 L563.17 161.24 L563.91 161.42 L564.66 161.6 L565.4 161.79 L566.15 161.98 L566.9 162.17 L567.64 162.36 L568.39 162.55 L569.13 162.75 L569.88 162.95 L570.62 163.16 L571.37 163.36 L572.11 163.57 L572.86 163.78 L573.6 164 L574.35 164.21 L575.09 164.43 L575.84 164.65 L576.59 164.88 L577.33 165.1 L578.08 165.33 L578.82 165.56 L579.57 165.8 L580.31 166.03 L581.06 166.27 L581.8 166.52 L582.55 166.76 L583.29 167.01 L584.04 167.26 L584.79 167.51 L585.53 167.77 L586.28 168.02 L587.02 168.28 L587.77 168.55 L588.51 168.81 L589.26 169.08 L590 169.35 L590.75 169.63 L591.49 169.9 L592.24 170.18 L592.99 170.46 L593.73 170.75 L594.48 171.03 L595.22 171.32 L595.97 171.62 L596.71 171.91 L597.46 172.21 L598.2 172.51 L598.95 172.81 L599.69 173.11 L600.44 173.42 L601.18 173.73 L601.93 174.04 L602.68 174.36 L603.42 174.67 L604.17 174.99 L604.91 175.32 L605.66 175.64 L606.4 175.97 L607.15 176.3 L607.89 176.63 L608.64 176.96 L609.38 177.3 L610.13 177.64 L610.88 177.98 L611.62 178.33 L612.37 178.67 L613.11 179.02 L613.86 179.37 L614.6 179.73 L615.35 180.09 L616.09 180.44 L616.84 180.81 L617.58 181.17 L618.33 181.54 L619.08 181.91 L619.82 182.28 L620.57 182.65 L621.31 183.03 L622.06 183.41 L622.8 183.79 L623.55 184.17 L624.29 184.56 L625.04 184.95 L625.78 185.34 L626.53 185.73 L627.27 186.13 L628.02 186.53 L628.77 186.94 L629.51 187.34 L630.26 187.75 L631 188.16 L631.75 188.58 L632.49 189 L633.24 189.42 L633.98 189.84 L634.73 190.27 L635.47 190.7 L636.22 191.14 L636.97 191.58 L637.71 192.02 L638.46 192.47 L639.2 192.92 L639.95 193.38 L640.69 193.84 L641.44 194.31 L642.18 194.78 L642.93 195.25 L643.67 195.73 L644.42 196.22 L645.17 196.71 L645.91 197.21 L646.66 197.72 L647.4 198.23 L648.15 198.75 L648.89 199.27 L649.64 199.81 L650.38 200.35 L651.13 200.9 L651.87 201.46 L652.62 202.03 L653.36 202.61 L654.11 203.2 L654.86 203.8 L655.6 204.41 L656.35 205.03 L657.09 205.67 L657.84 206.32 L658.58 206.98 L659.33 207.65 L660.07 208.34 L660.82 209.05 L661.56 209.77 L662.31 210.51 L663.06 211.27 L663.8 212.04 L664.55 212.83 L665.29 213.64 L666.04 214.47 L666.78 215.32 L667.53 216.19 L668.27 217.09 L669.02 218 L669.76 218.94 L670.51 219.9 L671.26 220.89 L672 221.9 L672.75 222.93 L673.49 223.99 L674.24 225.07 L674.98 226.18 L675.73 227.32 L676.47 228.48 L677.22 229.67 L677.96 230.88 L678.71 232.12 L679.45 233.38 L680.2 234.68 L680.95 235.99 L681.69 237.33 L682.44 238.7 L683.18 240.09 L683.93 241.51 L684.67 242.95 L685.42 244.41 L686.16 245.9 L686.91 247.41 L687.65 248.94 L688.4 250.49 L689.15 252.07 L689.89 253.66 L690.64 255.28 L691.38 256.91 L692.13 258.56 L692.87 260.23 L693.62 261.91 L694.36 263.61 L695.11 265.33 L695.85 267.06 L696.6 268.8 L697.35 270.56 L698.09 272.33 L698.84 274.12 L699.58 275.91 L700.33 277.72 L701.07 279.54 L701.82 281.37 L702.56 283.21 L703.31 285.05 L704.05 286.91 L704.8 288.77 L705.54 290.64 L706.29 292.52 L707.04 294.41 L707.78 296.3 L708.53 298.2 L709.27 300.1 L710.02 302.01 L710.76 303.93 L711.51 305.85 L712.25 307.77 L713 309.7 L713.74 311.64 L714.49 313.57 L715.24 315.51 L715.98 317.46 L716.73 319.41 L717.47 321.36 L718.22 323.31 L718.96 325.27 L719.71 327.22 L720.45 329.18 L721.2 331.15 L721.94 333.11 L722.69 335.08 L723.44 337.05 L724.18 339.02 L724.93 340.99 L725.67 342.97 L726.42 344.94 L727.16 346.92 L727.91 348.9 L728.65 350.88 L729.4 352.86 L730.14 354.84 L730.89 356.82 L731.63 358.81 L732.38 360.79 L733.13 362.78 L733.87 364.76 L734.62 366.75 L735.36 368.74 L736.11 370.73 L736.85 372.72 L737.6 374.71 L738.34 376.7 L739.09 378.69 L739.83 380.68 L740.58 382.67 L741.33 384.66 L742.07 386.66 L742.82 388.65 L743.56 390.64 L744.31 392.64 L745.05 394.63 L745.8 396.63 L746.54 398.62 L747.29 400.62 L748.03 402.61 L748.78 404.61 L749.53 406.6 L750.27 408.6 L751.02 410.6 L751.76 412.59 L752.51 414.59 L753.25 416.59 L754 418.58 L754.74 420.58 L755.49 422.58 L756.23 424.58 L756.98 426.57 L757.72 428.57 L758.47 430.57 L759.22 432.57 L759.96 434.57 L760.71 436.57 L761.45 438.56 L762.2 440.56 L762.94 442.56 L763.69 444.56 L764.43 446.56 L765.18 448.56 L765.92 450.56 L766.67 452.56 L767.42 454.56 L768.16 456.56 L768.91 458.56 L769.65 460.56 L770.4 462.56 L771.14 464.56 L771.89 466.56" stroke="#EE7733"/>
</g>
<path d="M223 420.25 V88.5" stroke="#000" stroke-width="4" stroke-dasharray="15 6.25" stroke-dashoffset="0.5" fill="none"/>
<path d="M765 420.25 V88.5" stroke="#000" stroke-width="4" stroke-dasharray="15 6.25" stroke-dashoffset="0.5" fill="none"/>
<path d="M401.34 446.37 L803.42 181.17" stroke="#EE3377" stroke-width="4.17" fill="none" clip-path="url(#ax)"/>
<rect x="121.5" y="88.5" width="668.2" height="331.75" fill="none" stroke="#000" stroke-width="3.0"/>
<g fill="#000" opacity="0.999" text-rendering="geometricPrecision">
<g stroke="#000" stroke-width="2" stroke-linejoin="round">
<text transform="matrix(0.5452 0 0 0.4910 0 56.20)" x="535.53 623.32 680.96" font-size="100" font-weight="bold">Mkn</text>
<text transform="matrix(0.5502 0 0 0.4887 0 56.21)" x="768.98 828.49 888.10 949.71" font-size="100" font-weight="bold">1044</text>
</g>
<text transform="matrix(0.4345 0 0 0.4492 0 137.45)" x="49.04 107.11" font-size="100">10</text>
<text transform="matrix(0.3601 0 0 0.3944 72.94 126.11)" font-size="100">−</text>
<text transform="matrix(0.2877 0 0 0.3067 95.71 122.20)" font-size="100">1</text>
<text transform="matrix(0.4345 0 0 0.4492 0 241.55)" x="47.19 105.27" font-size="100">10</text>
<text transform="matrix(0.3601 0 0 0.3944 72.14 228.91)" font-size="100">−</text>
<text transform="matrix(0.2975 0 0 0.2952 94.27 224.80)" font-size="100">3</text>
<text transform="matrix(0.4345 0 0 0.4492 0 345.45)" x="47.19 105.27" font-size="100">10</text>
<text transform="matrix(0.3601 0 0 0.3944 72.14 334.11)" font-size="100">−</text>
<text transform="matrix(0.2743 0 0 0.2980 94.70 329.60)" font-size="100">5</text>
<text transform="matrix(0.4345 0 0 0.4421 0 461.36)" x="367.07 425.15" font-size="100">10</text>
<text transform="matrix(0.3663 0 0 0.3944 211.31 450.01)" font-size="100">−</text>
<text transform="matrix(0.3036 0 0 0.3023 233.20 446.10)" font-size="100">4</text>
<text transform="matrix(0.4345 0 0 0.4421 0 461.36)" x="729.75 787.83" font-size="100">10</text>
<text transform="matrix(0.3601 0 0 0.3944 369.14 450.01)" font-size="100">−</text>
<text transform="matrix(0.3092 0 0 0.2937 390.85 445.80)" font-size="100">2</text>
<text transform="matrix(0.4345 0 0 0.4421 0 461.36)" x="1118.43 1176.51" font-size="100">10</text>
<text transform="matrix(0.3054 0 0 0.2980 537.41 445.80)" font-size="100">0</text>
<text transform="matrix(0.4345 0 0 0.4421 0 461.36)" x="1482.03 1540.11" font-size="100">10</text>
<text transform="matrix(0.3004 0 0 0.2894 695.00 445.50)" font-size="100">2</text>
<text transform="matrix(0.4598 0 0 0.4386 0 520.28)" x="647.75 708.93 744.69 802.13 858.17 918.03 975.29 1030.63 1084.66" font-size="100">Frequency</text>
<text transform="matrix(0.4617 0 0 0.4476 538.43 520.45)" font-size="100" font-style="italic">d</text>
<text transform="matrix(0.3889 0 0 0.3944 569.09 507.71)" font-size="100">−</text>
<text transform="matrix(0.2947 0 0 0.3052 593.96 503.40)" font-size="100">1</text>
</g>
</svg></body></html>
